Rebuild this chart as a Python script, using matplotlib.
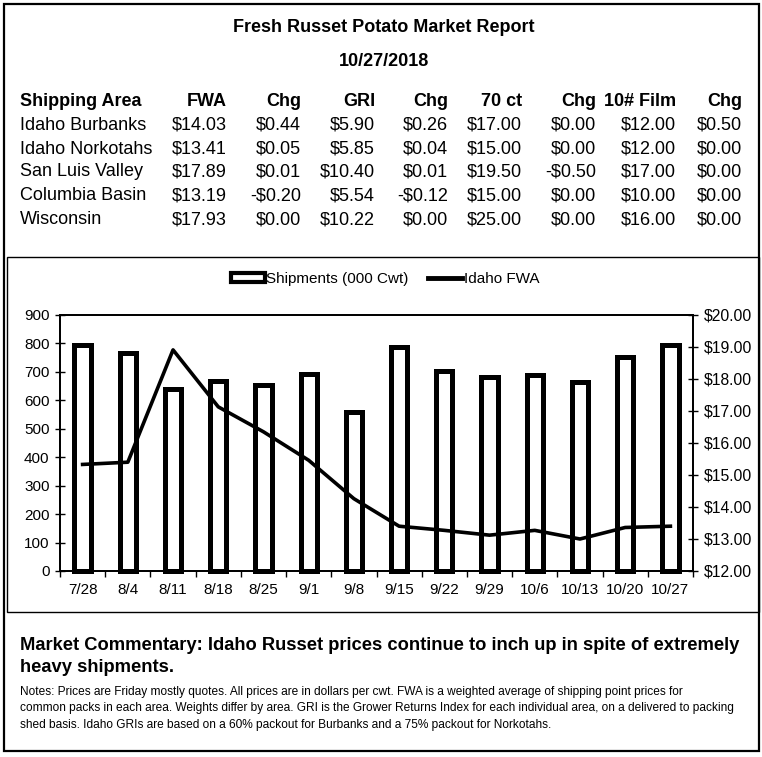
import matplotlib.pyplot as plt
from matplotlib.patches import Rectangle, Patch
from matplotlib.lines import Line2D

plt.rcParams['font.family'] = ['Liberation Sans', 'DejaVu Sans']

# weekly chart data
weeks = ['7/28', '8/4', '8/11', '8/18', '8/25', '9/1', '9/8', '9/15',
         '9/22', '9/29', '10/6', '10/13', '10/20', '10/27']
shipments = [793, 767, 640, 668, 653, 692, 560, 786, 703, 682, 689, 664, 753, 794]
idaho_fwa = [15.33, 15.40, 18.91, 17.13, 16.35, 15.46, 14.26, 13.40,
             13.27, 13.12, 13.27, 13.00, 13.36, 13.40]

# market table
headers = ['Shipping Area', 'FWA', 'Chg', 'GRI', 'Chg', '70 ct', 'Chg', '10# Film', 'Chg']
areas = ['Idaho Burbanks', 'Idaho Norkotahs', 'San Luis Valley', 'Columbia Basin', 'Wisconsin']
fwa = ['$14.03', '$13.41', '$17.89', '$13.19', '$17.93']
fwa_chg = ['$0.44', '$0.05', '$0.01', '-$0.20', '$0.00']
gri = ['$5.90', '$5.85', '$10.40', '$5.54', '$10.22']
gri_chg = ['$0.26', '$0.04', '$0.01', '-$0.12', '$0.00']
ct70 = ['$17.00', '$15.00', '$19.50', '$15.00', '$25.00']
ct70_chg = ['$0.00', '$0.00', '-$0.50', '$0.00', '$0.00']
film10 = ['$12.00', '$12.00', '$17.00', '$10.00', '$16.00']
film10_chg = ['$0.50', '$0.00', '$0.00', '$0.00', '$0.00']

title = 'Fresh Russet Potato Market Report'
report_date = '10/27/2018'
commentary = ['Market Commentary: Idaho Russet prices continue to inch up in spite of extremely',
              'heavy shipments.']
notes = ['Notes: Prices are Friday mostly quotes. All prices are in dollars per cwt. FWA is a weighted average of shipping point prices for',
         'common packs in each area. Weights differ by area. GRI is the Grower Returns Index for each individual area, on a delivered to packing',
         'shed basis. Idaho GRIs are based on a 60% packout for Burbanks and a 75% packout for Norkotahs.']

W, H = 762, 757
fig = plt.figure(figsize=(W / 100, H / 100), dpi=100)


def fx(x):
    return x / W


def fy(y):
    return 1 - y / H


# frames
fig.add_artist(Rectangle((fx(4), fy(751)), fx(755), 747 / H, transform=fig.transFigure,
                         fill=False, edgecolor='black', linewidth=1.6))
fig.add_artist(Rectangle((fx(7), fy(612)), fx(752), 355 / H, transform=fig.transFigure,
                         fill=False, edgecolor='black', linewidth=1.0))

# header texts
fig.text(fx(384), fy(27), title, ha='center', va='center', fontsize=13, fontweight='bold')
fig.text(fx(384), fy(62), report_date, ha='center', va='center', fontsize=13, fontweight='bold')

col_right = [227, 301, 375, 448, 522, 596, 676, 742]
row_y = [125, 149, 172, 196, 220]
fig.text(fx(20), fy(101), headers[0], ha='left', va='center', fontsize=13, fontweight='bold')
for h, xr in zip(headers[1:], col_right):
    fig.text(fx(xr), fy(101), h, ha='right', va='center', fontsize=13, fontweight='bold')

columns = [fwa, fwa_chg, gri, gri_chg, ct70, ct70_chg, film10, film10_chg]
for i, area in enumerate(areas):
    fig.text(fx(20), fy(row_y[i]), area, ha='left', va='center', fontsize=13)
    for col, xr in zip(columns, col_right):
        fig.text(fx(xr), fy(row_y[i]), col[i], ha='right', va='center', fontsize=13)

# chart
ax = fig.add_axes([fx(60), fy(571), 633 / W, 256 / H])
x = list(range(len(weeks)))
ax.bar(x, shipments, width=0.36, facecolor='white', edgecolor='black', linewidth=3.6,
       zorder=2, clip_on=False)
ax.set_xlim(-0.5, len(weeks) - 0.5)
ax.set_ylim(0, 900)
ax.set_yticks(range(0, 901, 100))
ax.set_xticks(x)
ax.set_xticklabels(weeks)
ax.set_xticks([i - 0.5 for i in range(len(weeks) + 1)], minor=True)
ax.tick_params(axis='x', which='major', length=0, pad=9, labelsize=11)
ax.tick_params(axis='x', which='minor', length=4, direction='out', width=1)
ax.tick_params(axis='y', direction='inout', length=7, width=1, pad=4, labelsize=11)
for s in ax.spines.values():
    s.set_linewidth(1.3)

ax2 = ax.twinx()
ax2.plot(x, idaho_fwa, color='black', linewidth=2.6, zorder=3)
ax2.set_ylim(12, 20)
ax2.set_yticks(range(12, 21))
ax2.set_yticklabels(['${:.2f}'.format(v) for v in range(12, 21)])
ax2.tick_params(axis='y', direction='inout', length=7, width=1, pad=4, labelsize=11.3)
for s in ax2.spines.values():
    s.set_linewidth(1.3)

handles = [Patch(facecolor='white', edgecolor='black', linewidth=3),
           Line2D([0], [0], color='black', linewidth=3.5)]
fig.legend(handles, ['Shipments (000 Cwt)', 'Idaho FWA'], loc='center',
           bbox_to_anchor=(fx(385), fy(279)), ncol=2, frameon=False, fontsize=11,
           handlelength=2.2, handleheight=0.6, handletextpad=0.1, columnspacing=1.3)

# commentary
for i, line in enumerate(commentary):
    fig.text(fx(20), fy(646 + 21 * i), line, ha='left', va='center', fontsize=13.2, fontweight='bold')
for i, line in enumerate(notes):
    fig.text(fx(20), fy(692 + 16.5 * i), line, ha='left', va='center', fontsize=8.55)

fig.savefig('out.png', dpi=100)
